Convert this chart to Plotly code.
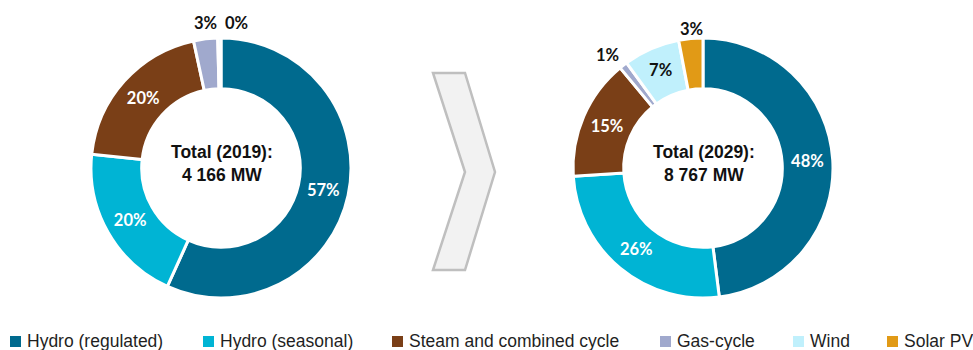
import plotly.graph_objects as go

# Installed capacity by technology, share of total (%)
tech = ["Hydro (regulated)", "Hydro (seasonal)", "Steam and combined cycle",
        "Gas-cycle", "Wind", "Solar PV"]
colors = ["#006A8E", "#00B4D4", "#7A3F17", "#A0A9CD", "#C0F0FC", "#E19A16"]

share_2019 = [57, 20, 20, 3, 0.4]          # no solar in 2019
share_2029 = [48, 26, 15, 1, 7, 3]
total_2019_mw = "4 166"
total_2029_mw = "8 767"

W, H = 973, 350


def px(x):
    return x / W


def py(y):
    return 1 - y / H


def pct(vals, i):
    return f"{round(vals[i] / sum(vals) * 100):.0f}%"


PCT_FONT = "Lato, 'Open Sans', sans-serif"
NARROW = "'Liberation Sans Narrow', 'Arial Narrow', 'Liberation Sans', Arial, sans-serif"

fig = go.Figure()


def donut(vals, cx, cy, r, small, name):
    n = len(vals)
    textpos = ["none" if i in small else "inside" for i in range(n)]
    tcol = ["#111111" if tech[i] == "Wind" else "#FFFFFF" for i in range(n)]
    fig.add_trace(go.Pie(
        labels=tech[:n], values=vals, name=name,
        sort=False, direction="clockwise", rotation=0,
        hole=0.61,
        marker=dict(colors=colors[:n], line=dict(color="#FFFFFF", width=3)),
        texttemplate="%{percent:.0%}",
        textposition=textpos,
        insidetextorientation="horizontal",
        insidetextfont=dict(color=tcol, family=PCT_FONT, size=16.5, weight="bold"),
        domain=dict(x=[px(cx - r), px(cx + r)], y=[py(cy + r), py(cy - r)]),
        showlegend=False,
        hoverinfo="label+percent",
    ))


donut(share_2019, 221, 168, 130, small={3, 4}, name="2019")
donut(share_2029, 703, 168, 130, small={3, 5}, name="2029")

annotations = []

# labels for the thin slices, placed just outside the ring
outside = [
    (share_2019, 3, 205, 23),
    (share_2019, 4, 236, 23),
    (share_2029, 3, 607, 55),
    (share_2029, 5, 691, 29),
]
for vals, i, x, y in outside:
    annotations.append(dict(
        x=px(x), y=py(y), xref="paper", yref="paper", showarrow=False,
        text=pct(vals, i), xanchor="center", yanchor="middle",
        font=dict(family=PCT_FONT, size=16.5, color="#111111", weight="bold"),
    ))

# totals in the donut holes
for year, total, cx in [("2019", total_2019_mw, 221), ("2029", total_2029_mw, 703)]:
    annotations.append(dict(
        x=px(cx + 1), y=py(163), xref="paper", yref="paper", showarrow=False,
        text=f"<b>Total ({year}):</b><br><b>{total} MW</b>",
        xanchor="center", yanchor="middle", align="center",
        font=dict(family=NARROW, size=17.5, color="#111111"),
    ))

# legend row along the bottom edge
legend_x = [10, 203, 392, 660, 793, 887]
shapes = []
for name, col, x in zip(tech, colors, legend_x):
    shapes.append(dict(
        type="rect", xref="paper", yref="paper",
        x0=px(x), x1=px(x + 11), y0=py(347), y1=py(336),
        fillcolor=col, line=dict(width=0),
    ))
    annotations.append(dict(
        x=px(x + 15), y=py(341), xref="paper", yref="paper", showarrow=False,
        text=name, xanchor="left", yanchor="middle",
        font=dict(family="'Liberation Sans', Arial, sans-serif", size=17.5, color="#1F1F1F"),
    ))

# chevron between the two years
chev = [(433, 73), (465, 73), (495, 172), (465, 270), (433, 270), (465, 172)]
path = "M " + " L ".join(f"{px(x)},{py(y)}" for x, y in chev) + " Z"
shapes.append(dict(
    type="path", xref="paper", yref="paper", path=path,
    fillcolor="#F2F2F2", line=dict(color="#BFBFBF", width=2.5),
))

fig.update_layout(
    width=W, height=H,
    margin=dict(l=0, r=0, t=0, b=0),
    paper_bgcolor="#FFFFFF", plot_bgcolor="#FFFFFF",
    annotations=annotations, shapes=shapes,
    showlegend=False,
)

fig.write_html("out.html")
